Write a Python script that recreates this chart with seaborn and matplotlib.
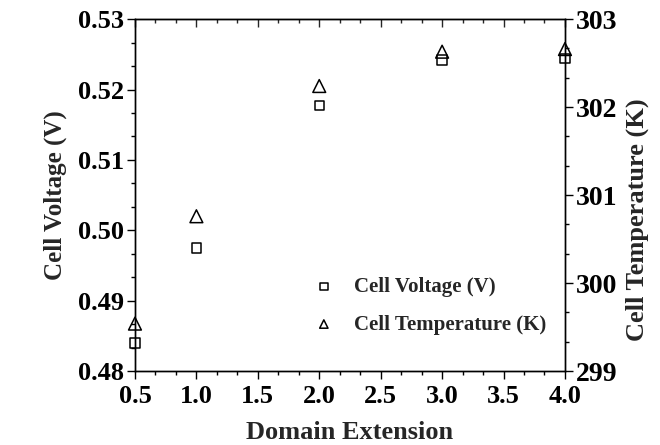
import matplotlib
matplotlib.use("Agg")
import matplotlib.pyplot as plt
import seaborn as sns
import pandas as pd
from matplotlib.ticker import MultipleLocator, AutoMinorLocator, FormatStrFormatter

sns.set_style("ticks")
plt.rcParams['font.family'] = ['Liberation Serif', 'DejaVu Serif']
plt.rcParams['font.weight'] = 'bold'

domain_extension = [0.5, 1.0, 2.0, 3.0, 4.0]
cell_voltage = [0.4840, 0.4975, 0.5177, 0.5242, 0.5244]
cell_temperature = [299.54, 300.76, 302.24, 302.63, 302.66]

df = pd.DataFrame({"Domain Extension": domain_extension,
                   "Cell Voltage (V)": cell_voltage,
                   "Cell Temperature (K)": cell_temperature})

fig = plt.figure(figsize=(6.6, 4.45), dpi=100)
ax = fig.add_axes([0.2045, 0.166, 0.6515, 0.791])
ax2 = ax.twinx()

sns.scatterplot(data=df, x="Domain Extension", y="Cell Voltage (V)", ax=ax,
                marker="s", s=45, facecolor="none", edgecolor="black",
                linewidth=1.1, label="Cell Voltage (V)", legend=False, clip_on=False, zorder=5)
sns.scatterplot(data=df, x="Domain Extension", y="Cell Temperature (K)", ax=ax2,
                marker="^", s=85, facecolor="none", edgecolor="black",
                linewidth=1.1, label="Cell Temperature (K)", legend=False, clip_on=False, zorder=5)

ax.set_xlim(0.5, 4.0)
ax.set_ylim(0.48, 0.53)
ax2.set_ylim(299, 303)

ax.xaxis.set_major_locator(MultipleLocator(0.5))
ax.xaxis.set_minor_locator(AutoMinorLocator(3))
ax.xaxis.set_major_formatter(FormatStrFormatter('%.1f'))
ax.yaxis.set_major_locator(MultipleLocator(0.01))
ax.yaxis.set_minor_locator(AutoMinorLocator(3))
ax.yaxis.set_major_formatter(FormatStrFormatter('%.2f'))
ax2.yaxis.set_major_locator(MultipleLocator(1))
ax2.yaxis.set_minor_locator(AutoMinorLocator(3))

for a in (ax, ax2):
    for sp in a.spines.values():
        sp.set_visible(True)
        sp.set_linewidth(1.0)
        sp.set_color("black")

ax.tick_params(axis='both', which='major', direction='out', length=6, width=1.0,
               labelsize=19, colors='black', pad=2)
ax.tick_params(axis='x', which='major', pad=4)
ax.tick_params(axis='both', which='minor', direction='out', length=3, width=1.0, colors='black')
ax2.tick_params(axis='y', which='major', direction='out', length=6, width=1.0,
                labelsize=20, colors='black', pad=2)
ax2.tick_params(axis='y', which='minor', direction='out', length=3, width=1.0, colors='black')

top = ax.secondary_xaxis('top')
top.xaxis.set_major_locator(MultipleLocator(0.5))
top.xaxis.set_minor_locator(AutoMinorLocator(3))
top.tick_params(axis='x', which='major', direction='in', length=6, width=1.0, labeltop=False)
top.tick_params(axis='x', which='minor', direction='in', length=3, width=1.0)

for lab in ax.get_xticklabels() + ax.get_yticklabels() + ax2.get_yticklabels():
    lab.set_fontweight('bold')

ax.set_xlabel("Domain Extension", fontsize=19, fontweight='bold', labelpad=9)
ax.set_ylabel("Cell Voltage (V)", fontsize=18, fontweight='bold', labelpad=8)
ax2.set_ylabel("Cell Temperature (K)", fontsize=19, fontweight='bold', labelpad=6)
ax2.yaxis.label.set_y(0.43)

h1, l1 = ax.get_legend_handles_labels()
h2, l2 = ax2.get_legend_handles_labels()
leg = ax2.legend(h1 + h2, l1 + l2, loc='upper left', bbox_to_anchor=(0.415, 0.268),
                 frameon=False, borderpad=0, borderaxespad=0,
                 prop={'family': 'Liberation Serif', 'weight': 'bold', 'size': 15},
                 handlelength=1.0, handletextpad=0.95, labelspacing=0.85)
hs = leg.legend_handles
hs[0].set_sizes([28])
hs[1].set_sizes([36])

fig.savefig("out.png", dpi=100)
